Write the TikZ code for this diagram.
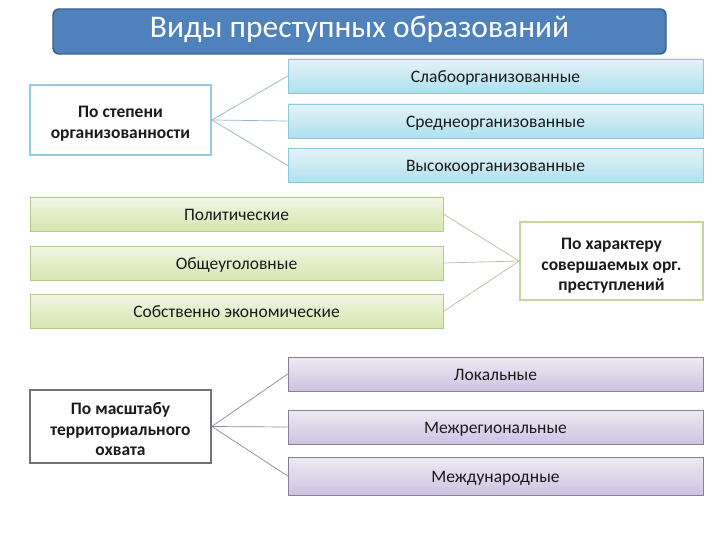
\documentclass[tikz,border=0pt]{standalone}
\usepackage{fontspec}
\setmainfont{Carlito}
\begin{document}
\begin{tikzpicture}[x=1pt,y=-1pt,
  title/.style={draw=titleedge,line width=1.4pt,fill=titlefill,rounded corners=6pt,
    minimum width=613pt,minimum height=45pt,inner sep=0pt,text=white,font=\fontsize{31.5}{34}\selectfont,
    text height=14pt,text depth=2pt},
  flat/.style={minimum width=415pt,minimum height=34pt,inner sep=0pt,
    font=\fontsize{17.5}{20}\selectfont,text=txt,text height=13pt,text depth=0.4pt},
  bluebox/.style={flat,draw=blueedge,line width=0.6pt,top color=bluetop,bottom color=bluebot},
  greenbox/.style={flat,draw=greenedge,line width=0.6pt,top color=greentop,bottom color=greenbot,minimum width=413pt},
  purplebox/.style={flat,draw=purpleedge,line width=0.6pt,top color=purpletop,bottom color=purplebot},
  catbox/.style={fill=white,line width=1.6pt,inner sep=0pt},
  cattext/.style={inner sep=0pt,align=center,anchor=base,
    font=\bfseries\fontsize{17.5}{20.3}\selectfont,text=txt},
  link/.style={line width=0.7pt}
]
\definecolor{titlefill}{HTML}{4F81BD}
\definecolor{titleedge}{HTML}{3A5F8C}
\definecolor{txt}{HTML}{1A1A1A}
\definecolor{bluetop}{HTML}{E4F3F8}
\definecolor{bluebot}{HTML}{AEE0EF}
\definecolor{blueedge}{HTML}{8CC8DA}
\definecolor{greentop}{HTML}{F1F6E4}
\definecolor{greenbot}{HTML}{D5E6AE}
\definecolor{greenedge}{HTML}{B4C98C}
\definecolor{purpletop}{HTML}{EEEAF4}
\definecolor{purplebot}{HTML}{CEC2E2}
\definecolor{purpleedge}{HTML}{8A7F98}
\definecolor{bluelink}{HTML}{8FB8C8}
\definecolor{greenlink}{HTML}{B2C296}
\definecolor{purplelink}{HTML}{8F8799}
\definecolor{catblue}{HTML}{93CDDD}
\definecolor{catgreen}{HTML}{C3D69B}
\definecolor{catpurple}{HTML}{75707F}

\useasboundingbox (0,0) rectangle (720,540);
\fill[white] (0,0) rectangle (720,540);

\node[title] (t) at (359.5,31.5) {Виды преступных образований};

% group 1
\node[catbox,draw=catblue,minimum width=181pt,minimum height=70pt] (o1) at (120.5,120) {};
\node[cattext] (o1t) at (120.5,138.3) {По степени\\организованности};
\node[bluebox] (s1) at (495.5,76) {Слабоорганизованные};
\node[bluebox] (s2) at (495.5,121) {Среднеорганизованные};
\node[bluebox] (s3) at (495.5,165.5) {Высокоорганизованные};
\draw[link,bluelink] (o1.east) -- (s1.west);
\draw[link,bluelink] (o1.east) -- (s2.west);
\draw[link,bluelink] (o1.east) -- (s3.west);

% group 2
\node[greenbox] (g1) at (236.5,214) {Политические};
\node[greenbox] (g2) at (236.5,263) {Общеуголовные};
\node[greenbox] (g3) at (236.5,311.5) {Собственно экономические};
\node[catbox,draw=catgreen,minimum width=183pt,minimum height=78pt] (o2) at (611.5,261) {};
\node[cattext] (o2t) at (611.5,290.5) {По характеру\\совершаемых орг.\\преступлений};
\draw[link,greenlink] (g1.east) -- (o2.west);
\draw[link,greenlink] (g2.east) -- (o2.west);
\draw[link,greenlink] (g3.east) -- (o2.west);

% group 3
\node[catbox,draw=catpurple,minimum width=181pt,minimum height=73pt] (o3) at (120.5,426.5) {};
\node[cattext] (o3t) at (120.5,455.5) {По масштабу\\территориального\\охвата};
\node[purplebox] (m1) at (495.5,374) {Локальные};
\node[purplebox] (m2) at (495.5,427) {Межрегиональные};
\node[purplebox,minimum height=38pt] (m3) at (495.5,476) {Международные};
\draw[link,purplelink] (o3.east) -- (m1.west);
\draw[link,purplelink] (o3.east) -- (m2.west);
\draw[link,purplelink] (o3.east) -- (m3.west);
\end{tikzpicture}
\end{document}
